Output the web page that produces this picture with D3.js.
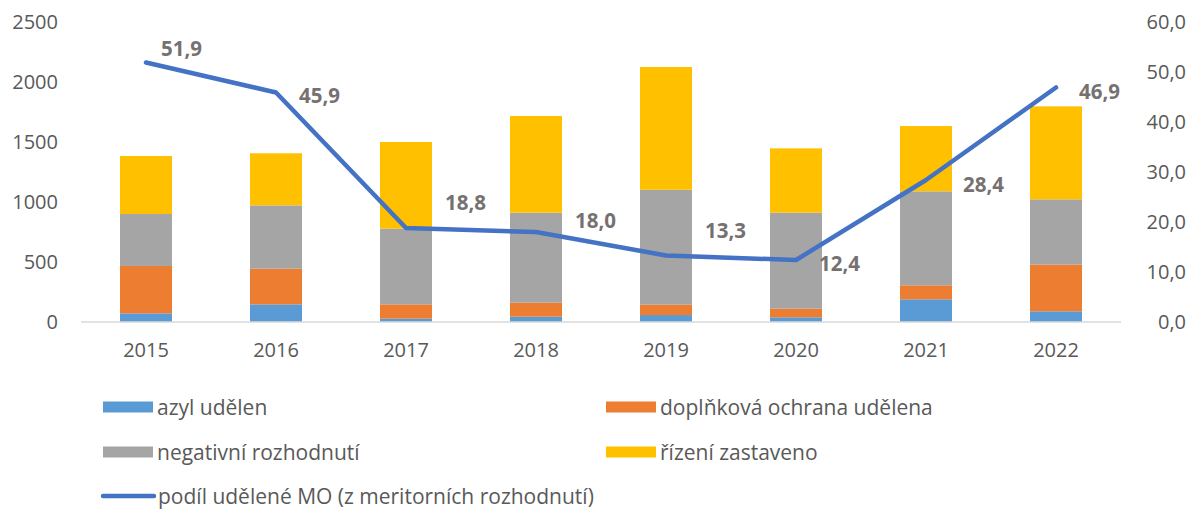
<!DOCTYPE html>
<html><head><meta charset="utf-8">
<script src="https://cdn.jsdelivr.net/npm/d3@7"></script>
<style>body{margin:0;background:#fff}svg{display:block}</style>
</head><body>
<svg id="c" width="1189" height="509"></svg>
<script>
const years = ["2015","2016","2017","2018","2019","2020","2021","2022"];
const azyl = [72, 147, 28, 44, 58, 39, 189, 89];
const doplnkova = [395, 297, 119, 117, 86, 72, 117, 389];
const negativni = [433, 528, 631, 750, 958, 800, 783, 544];
const zastaveno = [483, 434, 722, 806, 1023, 536, 544, 775];
const podil = [51.9, 45.9, 18.8, 18.0, 13.3, 12.4, 28.4, 46.9];
const leftTicks = [0, 500, 1000, 1500, 2000, 2500];
const rightTicks = [0, 10, 20, 30, 40, 50, 60];
const seriesNames = ["azyl udělen", "doplňková ochrana udělena", "negativní rozhodnutí", "řízení zastaveno"];
const lineName = "podíl udělené MO (z meritorních rozhodnutí)";
// label placement tweaks (px), relative to each line point
const labelDx = [15, 23, 39, 39, 39, 23, 37, 23];
const labelDy = [-15, 2, -26, -12, -26, 3, 4, 3];

const colors = ["#5B9BD5", "#ED7D31", "#A5A5A5", "#FFC000"];
const lineColor = "#4472C4";
const textColor = "#595959";
const font = "'Open Sans', sans-serif";

const svg = d3.select("#c");
const x = d3.scaleBand().domain(years).range([81, 1121]).paddingInner(0.6).paddingOuter(0.3);
const yL = d3.scaleLinear().domain([0, 2500]).range([322, 22]);
const yR = d3.scaleLinear().domain([0, 60]).range([322, 22]);

const rows = years.map((y, i) => ({year: y, s0: azyl[i], s1: doplnkova[i], s2: negativni[i], s3: zastaveno[i]}));
const stack = d3.stack().keys(["s0","s1","s2","s3"])(rows);

svg.append("g").selectAll("g").data(stack).join("g")
  .attr("fill", (d, i) => colors[i])
  .selectAll("rect").data(d => d).join("rect")
  .attr("x", d => x(d.data.year))
  .attr("width", x.bandwidth())
  .attr("y", d => yL(d[1]))
  .attr("height", d => yL(d[0]) - yL(d[1]));

// baseline
svg.append("line").attr("x1", 81).attr("x2", 1121).attr("y1", yL(0)).attr("y2", yL(0))
  .attr("stroke", "#D9D9D9").attr("stroke-width", 1.5);

// left axis
const axL = d3.axisLeft(yL).tickValues(leftTicks).tickSize(0).tickPadding(0).tickFormat(d3.format("d"));
svg.append("g").attr("transform", "translate(58,0)").call(axL)
  .call(g => g.select(".domain").remove())
  .selectAll("text").attr("font-family", font).attr("font-size", 20).attr("fill", textColor);

// right axis
const axR = d3.axisRight(yR).tickValues(rightTicks).tickSize(0).tickPadding(0)
  .tickFormat(d => d3.format(".1f")(d).replace(".", ","));
svg.append("g").attr("transform", "translate(1186,0)").call(axR)
  .call(g => g.select(".domain").remove())
  .selectAll("text").attr("text-anchor", "end").attr("font-family", font).attr("font-size", 20).attr("fill", textColor);

// x axis
const axX = d3.axisBottom(x).tickSize(0).tickPadding(0);
svg.append("g").attr("transform", "translate(0,343)").call(axX)
  .call(g => g.select(".domain").remove())
  .selectAll("text").attr("font-family", font).attr("font-size", 20).attr("fill", textColor);

// line
const cx = y => x(y) + x.bandwidth() / 2;
const line = d3.line().x((d, i) => cx(years[i])).y(d => yR(d));
svg.append("path").datum(podil).attr("d", line).attr("fill", "none")
  .attr("stroke", lineColor).attr("stroke-width", 4.5).attr("stroke-linecap", "round").attr("stroke-linejoin", "round");

// data labels
svg.append("g").selectAll("text").data(podil).join("text")
  .attr("x", (d, i) => cx(years[i]) + labelDx[i])
  .attr("y", (d, i) => yR(d) + labelDy[i])
  .attr("dominant-baseline", "central")
  .attr("font-family", font).attr("font-size", 20.5).attr("font-weight", "bold").attr("fill", "#767171")
  .text(d => d3.format(".1f")(d).replace(".", ","));

// legend
const legItems = [
  {name: seriesNames[0], color: colors[0], col: 0, row: 0},
  {name: seriesNames[1], color: colors[1], col: 1, row: 0},
  {name: seriesNames[2], color: colors[2], col: 0, row: 1},
  {name: seriesNames[3], color: colors[3], col: 1, row: 1}
];
const colX = [103, 606];
const rowY = [407, 452, 496];
const lg = svg.append("g");
legItems.forEach(it => {
  lg.append("rect").attr("x", colX[it.col]).attr("y", rowY[it.row] - 5.5).attr("width", 50).attr("height", 11).attr("fill", it.color);
  lg.append("text").attr("x", colX[it.col] + 54).attr("y", rowY[it.row]).attr("dominant-baseline", "central")
    .attr("font-family", font).attr("font-size", 21).attr("fill", textColor).text(it.name);
});
lg.append("line").attr("x1", colX[0]).attr("x2", colX[0] + 51).attr("y1", rowY[2]).attr("y2", rowY[2])
  .attr("stroke", lineColor).attr("stroke-width", 4.5).attr("stroke-linecap", "round");
lg.append("text").attr("x", colX[0] + 55).attr("y", rowY[2]).attr("dominant-baseline", "central")
  .attr("font-family", font).attr("font-size", 21).attr("fill", textColor).text(lineName);
</script>
</body></html>
